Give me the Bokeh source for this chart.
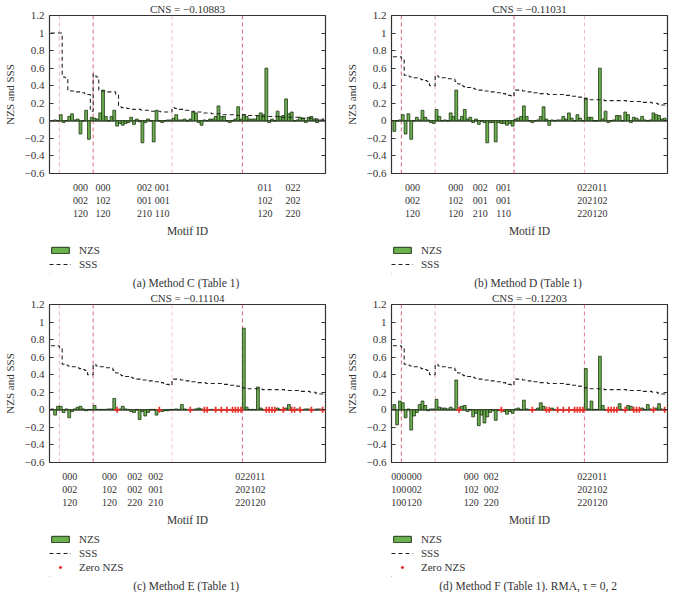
from bokeh.plotting import figure
from bokeh.models import (FixedTicker, LinearAxis, Legend, LegendItem, Title, Span)
from bokeh.layouts import column, row
from bokeh.embed import file_html
from bokeh.resources import INLINE

FONT = "Liberation Serif"
TXT = "#333333"

motif_idx = list(range(1, 98))
group_bounds = [3.5, 15.5, 43.5, 68.5]
y_ticks = [-0.6, -0.4, -0.2, 0, 0.2, 0.4, 0.6, 0.8, 1.0, 1.2]
y_tick_labels = ["\u22120.6", "\u22120.4", "\u22120.2", "0", "0.2", "0.4", "0.6", "0.8", "1", "1.2"]

# ---- Panel (a) Method C ----
nzs_a = [0.0, 0.01, 0.0, 0.07, -0.02, 0.0, 0.05, 0.08, 0.01, 0.02,
         -0.15, 0.0, 0.12, -0.21, 0.04, 0.03, 0.02, 0.09, 0.35, 0.05,
         0.0, 0.05, 0.12, -0.06, -0.03, -0.05, -0.03, -0.02, 0.04, -0.04,
         0.02, -0.01, -0.25, -0.02, 0.02, 0.0, -0.24, 0.12, 0.0, -0.02,
         0.0, 0.01, 0.01, 0.03, 0.07, 0.01, 0.01, 0.02, 0.0, 0.02,
         0.10, 0.09, -0.02, -0.05, 0.01, 0.0, 0.02, 0.02, 0.05, 0.17,
         0.05, 0.05, 0.0, -0.02, 0.0, 0.02, 0.16, 0.02, 0.07, 0.05,
         0.02, 0.02, 0.02, 0.06, 0.09, 0.07, 0.60, -0.02, 0.02, 0.0,
         0.11, 0.05, 0.06, 0.25, 0.08, 0.10, 0.0, 0.01, 0.04, 0.03,
         -0.02, 0.04, 0.05, 0.02, -0.02, 0.01, 0.01]
sss_a = [1.0, 1.0, 1.0, 1.0, 0.5, 0.49, 0.35, 0.34, 0.34, 0.33,
         0.33, 0.32, 0.31, 0.30, 0.11, 0.53, 0.50, 0.35, 0.34, 0.34,
         0.33, 0.33, 0.33, 0.30, 0.16, 0.15, 0.15, 0.14, 0.14, 0.13,
         0.13, 0.13, 0.12, 0.12, 0.12, 0.11, 0.11, 0.11, 0.11, 0.10,
         0.10, 0.10, 0.10, 0.15, 0.14, 0.13, 0.13, 0.12, 0.12, 0.11,
         0.11, 0.10, 0.10, 0.10, 0.09, 0.09, 0.09, 0.08, 0.08, 0.08,
         0.08, 0.07, 0.07, 0.07, 0.07, 0.07, 0.06, 0.06, 0.07, 0.07,
         0.06, 0.06, 0.06, 0.06, 0.06, 0.05, 0.05, 0.05, 0.05, 0.05,
         0.05, 0.05, 0.04, 0.04, 0.04, 0.04, 0.04, 0.04, 0.04, 0.03,
         0.03, 0.03, 0.03, 0.03, 0.02, 0.02, 0.02]
ticks_a = [11, 19, 33.7, 40, 76.5, 86.5]
labels_a = ["000\n002\n120", "000\n102\n120", "002\n001\n210", "001\n001\n110",
            "011\n102\n120", "022\n202\n220"]

# ---- SSS shared by methods D, E, F ----
sss_def = [0.73, 0.73, 0.73, 0.71, 0.52, 0.51, 0.50, 0.49, 0.49, 0.48,
           0.47, 0.46, 0.45, 0.40, 0.40, 0.52, 0.50, 0.49, 0.49, 0.48,
           0.48, 0.48, 0.45, 0.42, 0.40, 0.39, 0.38, 0.38, 0.37, 0.36,
           0.35, 0.35, 0.34, 0.34, 0.33, 0.33, 0.32, 0.32, 0.32, 0.31,
           0.30, 0.29, 0.28, 0.35, 0.35, 0.35, 0.34, 0.34, 0.33, 0.33,
           0.32, 0.32, 0.31, 0.31, 0.31, 0.30, 0.30, 0.30, 0.30, 0.30,
           0.30, 0.29, 0.29, 0.28, 0.28, 0.27, 0.27, 0.26, 0.25, 0.25,
           0.24, 0.24, 0.24, 0.24, 0.24, 0.23, 0.23, 0.23, 0.23, 0.23,
           0.23, 0.23, 0.23, 0.22, 0.22, 0.22, 0.22, 0.22, 0.21, 0.21,
           0.21, 0.21, 0.20, 0.20, 0.19, 0.18, 0.18]

# ---- Panel (b) Method D ----
nzs_b = [-0.12, 0.0, 0.01, 0.07, -0.15, 0.08, -0.21, 0.0, 0.04, 0.01,
         0.12, 0.04, 0.01, -0.02, -0.03, 0.13, 0.05, 0.0, 0.01, 0.0,
         0.09, 0.05, 0.35, 0.01, 0.05, 0.13, 0.02, 0.04, -0.02, 0.02,
         -0.04, 0.0, -0.02, -0.25, -0.02, -0.02, -0.24, -0.02, -0.03, -0.03,
         -0.05, -0.03, -0.06, 0.02, 0.03, 0.05, 0.17, 0.05, 0.0, -0.02,
         0.0, 0.01, 0.05, 0.16, 0.02, -0.05, 0.01, 0.0, 0.01, 0.01,
         0.05, 0.02, 0.09, 0.03, 0.0, 0.07, 0.03, 0.0, 0.26, 0.04,
         0.04, 0.0, 0.0, 0.60, 0.02, 0.11, -0.02, 0.0, 0.01, 0.06,
         0.06, 0.0, 0.10, 0.07, -0.02, 0.04, 0.03, 0.01, 0.05, 0.01,
         0.0, 0.01, 0.09, 0.07, 0.06, 0.02, 0.03]
ticks_b = [7.5, 22.8, 31.5, 39.8, 68.6, 74]
labels_b = ["000\n002\n120", "000\n102\n120", "002\n001\n210", "001\n001\n110",
            "022\n202\n220", "011\n102\n120"]

# ---- Panel (c) Method E ----
nzs_c = [0.01, -0.06, 0.04, 0.04, -0.03, 0.01, -0.09, -0.02, 0.01, 0.03,
         0.04, 0.01, -0.01, 0.005, 0.005, 0.05, 0.005, 0.005, 0.005, 0.005,
         0.01, 0.01, 0.13, 0.0, 0.01, 0.04, 0.01, 0.005, -0.02, -0.03,
         0.005, -0.11, -0.02, -0.07, -0.03, 0.005, 0.005, -0.06, 0.0, -0.02,
         -0.01, -0.01, 0.005, 0.005, 0.01, 0.005, 0.06, 0.01, 0.005, 0.0,
         0.005, 0.01, 0.02, 0.01, 0.0, 0.0, 0.005, 0.005, 0.0, 0.005,
         0.0, 0.005, 0.0, 0.005, 0.0, 0.0, 0.0, 0.0, 0.93, 0.03,
         0.005, 0.005, 0.005, 0.26, 0.02, 0.005, 0.0, 0.0, 0.0, 0.0,
         0.02, 0.005, 0.0, 0.02, 0.06, 0.0, 0.0, 0.01, 0.0, 0.005,
         0.01, 0.01, 0.0, 0.005, 0.01, 0.01, 0.0]
ticks_c = [7.2, 21.3, 30.3, 37.7, 68.6, 74]
labels_c = ["000\n002\n120", "000\n102\n120", "002\n002\n220", "002\n001\n210",
            "022\n202\n220", "011\n102\n120"]

# ---- Panel (d) Method F ----
nzs_d = [0.06, -0.17, 0.10, 0.08, -0.09, 0.01, -0.23, -0.07, -0.03, 0.06,
         0.10, 0.05, -0.01, 0.01, 0.01, 0.12, 0.03, 0.02, 0.02, 0.01,
         0.03, 0.01, 0.34, 0.0, 0.04, 0.05, -0.02, 0.005, -0.08, -0.04,
         -0.18, -0.06, -0.15, -0.08, -0.03, -0.01, -0.12, -0.01, 0.0, -0.02,
         -0.05, -0.02, -0.04, 0.01, 0.02, 0.005, 0.11, 0.01, 0.005, 0.0,
         0.005, 0.02, 0.08, 0.04, 0.0, 0.0, 0.02, 0.005, 0.0, 0.005,
         0.0, 0.005, 0.0, 0.005, 0.0, 0.0, 0.0, 0.0, 0.47, 0.01,
         0.10, 0.005, 0.005, 0.61, 0.05, 0.005, 0.0, 0.0, 0.0, 0.0,
         0.07, 0.005, 0.0, 0.05, 0.04, 0.0, 0.0, 0.0, 0.02, 0.005,
         0.06, 0.01, 0.0, 0.02, 0.07, 0.01, 0.0]
ticks_d = [2.6, 8.1, 28.3, 35.4, 68.6, 74]
labels_d = ["000\n100\n100", "000\n002\n120", "000\n102\n120", "002\n002\n220",
            "022\n202\n220", "011\n102\n120"]

BAR_FILL = "#6cb04f"
BAR_LINE = "#1e3514"
BOUND_COLOR = "#d9596a"
SSS_COLOR = "#222222"
ZERO_COLOR = "#e8302a"
FW = 276
FH = 158


def make_panel(nzs, sss, xt, xl, cns, bound_alpha, with_zero, left, right):
    p = figure(frame_width=FW, frame_height=FH, x_range=(0, 98), y_range=(-0.6, 1.2),
               output_backend="svg", toolbar_location=None,
               min_border_left=left, min_border_right=right,
               min_border_top=0, min_border_bottom=0)
    p.title.text = cns
    p.title.align = "center"
    p.title.text_font = FONT
    p.title.text_font_size = "11px"
    p.title.text_font_style = "normal"
    p.title.text_color = TXT
    p.title.standoff = 1
    p.title.offset = 0
    p.xgrid.visible = False
    p.ygrid.visible = False
    p.outline_line_color = "#333333"
    p.outline_line_width = 1.2

    for b, a in zip(group_bounds, bound_alpha):
        p.add_layout(Span(location=b, dimension="height", line_color=BOUND_COLOR,
                          line_alpha=a, line_dash="4 3", line_width=1, level="underlay"))
    p.add_layout(Span(location=0, dimension="width", line_color="#1a1a1a",
                      line_width=1.3, level="underlay"))

    p.vbar(x=motif_idx, top=nzs, width=1, bottom=0, fill_color=BAR_FILL,
           line_color=BAR_LINE, line_width=0.8)
    edges = [i - 0.5 for i in motif_idx] + [motif_idx[-1] + 0.5]
    sss_ext = list(sss) + [sss[-1]]
    p.step(x=edges, y=sss_ext, mode="after", line_color=SSS_COLOR,
           line_dash="4 3", line_width=1.1)
    if with_zero:
        zx = [i for i, v in zip(motif_idx, nzs) if v == 0]
        p.scatter(x=zx, y=[0.0] * len(zx), marker="cross", size=6,
                  line_color=ZERO_COLOR, line_width=1.7)

    ya = p.yaxis[0]
    ya.ticker = FixedTicker(ticks=y_ticks)
    ya.major_label_overrides = dict(zip(y_ticks, y_tick_labels))
    ya.major_tick_in = 4
    ya.major_tick_out = 0
    ya.minor_tick_line_color = None
    ya.axis_line_color = None
    ya.major_tick_line_color = "#333333"
    ya.major_label_text_font = FONT
    ya.major_label_text_font_size = "11px"
    ya.major_label_text_color = TXT
    ya.major_label_standoff = 5
    ya.axis_label = "NZS and SSS"
    ya.axis_label_text_font = FONT
    ya.axis_label_text_font_size = "11px"
    ya.axis_label_text_font_style = "normal"
    ya.axis_label_text_color = TXT
    ya.axis_label_standoff = 6

    ra = LinearAxis(ticker=FixedTicker(ticks=y_ticks),
                    major_label_overrides={t: "" for t in y_ticks},
                    major_tick_in=4, major_tick_out=0, minor_tick_line_color=None,
                    axis_line_color=None, major_tick_line_color="#333333",
                    major_label_standoff=0)
    p.add_layout(ra, "right")

    xa = p.xaxis[0]
    xa.ticker = FixedTicker(ticks=xt)
    xa.major_label_overrides = dict(zip(xt, xl))
    xa.major_tick_line_color = None
    xa.minor_tick_line_color = None
    xa.axis_line_color = None
    xa.major_label_text_font = FONT
    xa.major_label_text_font_size = "10px"
    xa.major_label_text_color = TXT
    xa.major_label_standoff = 2
    xa.axis_label = "Motif ID"
    xa.axis_label_text_font = FONT
    xa.axis_label_text_font_size = "11.5px"
    xa.axis_label_text_font_style = "normal"
    xa.axis_label_text_color = TXT
    xa.axis_label_standoff = 3
    return p


# legend-only swatches live outside the visible range of the legend box
SWATCH_X = [-10.0]
SWATCH_Y = [-10.0]


def make_legend(caption, with_zero, left, right):
    rows = 3 if with_zero else 2
    lf = figure(frame_width=FW, frame_height=14 * rows + 2, x_range=(0, 1), y_range=(0, 1),
                output_backend="svg", toolbar_location=None,
                x_axis_location=None, y_axis_location=None,
                min_border_left=left, min_border_right=right,
                min_border_top=4, min_border_bottom=0)
    lf.grid.visible = False
    lf.outline_line_color = None
    r1 = lf.vbar(x=SWATCH_X, top=SWATCH_Y, width=1, fill_color=BAR_FILL,
                 line_color=BAR_LINE, line_width=1)
    r2 = lf.line(x=SWATCH_X, y=SWATCH_Y, line_color=SSS_COLOR, line_dash="4 3",
                 line_width=1.1)
    items = [LegendItem(label="NZS", renderers=[r1]),
             LegendItem(label="SSS", renderers=[r2])]
    if with_zero:
        r3 = lf.scatter(x=SWATCH_X, y=SWATCH_Y, marker="cross", size=5,
                        line_color=ZERO_COLOR, line_width=1.5)
        items.append(LegendItem(label="Zero NZS", renderers=[r3]))
    leg = Legend(items=items, location="top_left", orientation="vertical",
                 label_text_font=FONT, label_text_font_size="11px",
                 label_text_color=TXT, glyph_width=22, glyph_height=8,
                 label_height=14, spacing=0, padding=0, margin=0,
                 label_standoff=8, border_line_color=None,
                 background_fill_alpha=0)
    lf.add_layout(leg)
    lf.add_layout(Title(text=caption, align="center", text_font=FONT,
                        text_font_size="11.5px", text_font_style="normal",
                        text_color=TXT, standoff=2, offset=0), "below")
    return lf


LA, RA = 44, 14
LB, RB = 52, 6

pa = make_panel(nzs_a, sss_a, ticks_a, labels_a, "CNS = \u22120.10883",
                [0.45, 0.9, 0.4, 0.9], False, LA, RA)
la = make_legend("(a)  Method C (Table 1)", False, LA, RA)
pb = make_panel(nzs_b, sss_def, ticks_b, labels_b, "CNS = \u22120.11031",
                [0.9, 0.45, 0.9, 0.45], False, LB, RB)
lb = make_legend("(b)  Method D (Table 1)", False, LB, RB)
pc = make_panel(nzs_c, sss_def, ticks_c, labels_c, "CNS = \u22120.11104",
                [0.45, 0.9, 0.3, 0.9], True, LA, RA)
lc = make_legend("(c)  Method E (Table 1)", True, LA, RA)
pd = make_panel(nzs_d, sss_def, ticks_d, labels_d, "CNS = \u22120.12203",
                [0.9, 0.45, 0.45, 0.8], True, LB, RB)
ld = make_legend("(d)  Method F (Table 1). RMA, \u03c4 = 0, 2", True, LB, RB)

page = column(row(column(pa, la), column(pb, lb)),
              row(column(pc, lc), column(pd, ld)))
open("out.html", "w").write(file_html(page, INLINE))
